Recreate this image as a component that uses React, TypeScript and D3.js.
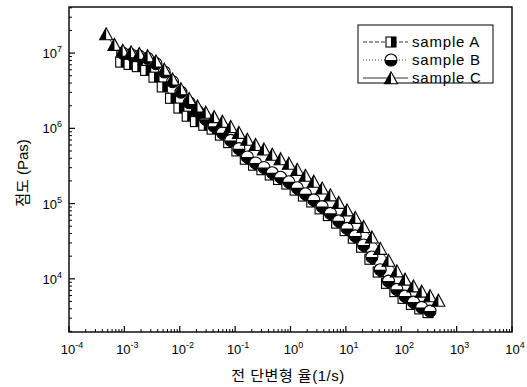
import React from "react";
import * as d3 from "d3";

const rateC = [4.68e-4, 6.61e-4, 9.33e-4, 1.32e-3, 1.86e-3, 2.63e-3, 3.72e-3, 5.25e-3, 7.41e-3, 1.05e-2, 1.48e-2, 2.09e-2, 2.95e-2, 4.17e-2, 5.89e-2, 8.32e-2, 0.117, 0.166, 0.234, 0.331, 0.468, 0.661, 0.933, 1.32, 1.86, 2.63, 3.72, 5.25, 7.41, 10.5, 14.8, 20.9, 29.5, 41.7, 58.9, 83.2, 117, 166, 234, 331, 468];
const viscC = [1.74e7, 1.26e7, 1.05e7, 1.0e7, 9.55e6, 8.91e6, 7.59e6, 5.89e6, 4.37e6, 3.24e6, 2.4e6, 1.91e6, 1.58e6, 1.38e6, 1.2e6, 1.02e6, 8.51e5, 6.92e5, 5.89e5, 5.13e5, 4.37e5, 3.8e5, 3.31e5, 2.75e5, 2.29e5, 1.91e5, 1.55e5, 1.26e5, 1.0e5, 7.94e4, 6.31e4, 4.79e4, 3.47e4, 2.45e4, 1.7e4, 1.23e4, 9.55e3, 7.76e3, 6.61e3, 5.75e3, 5.01e3];
const rateAB = [9.33e-4, 1.32e-3, 1.86e-3, 2.63e-3, 3.72e-3, 5.25e-3, 7.41e-3, 1.05e-2, 1.48e-2, 2.09e-2, 2.95e-2, 4.17e-2, 5.89e-2, 8.32e-2, 0.117, 0.166, 0.234, 0.331, 0.468, 0.661, 0.933, 1.32, 1.86, 2.63, 3.72, 5.25, 7.41, 10.5, 14.8, 20.9, 29.5, 41.7, 58.9, 83.2, 117, 166, 234, 331];
const viscB = [1.0e7, 9.55e6, 9.12e6, 8.51e6, 7.24e6, 5.62e6, 4.17e6, 3.02e6, 2.19e6, 1.7e6, 1.32e6, 1.07e6, 8.71e5, 6.92e5, 5.37e5, 4.17e5, 3.47e5, 3.02e5, 2.57e5, 2.24e5, 1.95e5, 1.62e5, 1.35e5, 1.12e5, 9.12e4, 7.41e4, 5.89e4, 4.68e4, 3.72e4, 2.82e4, 1.95e4, 1.32e4, 9.33e3, 7.24e3, 5.89e3, 4.9e3, 4.17e3, 3.72e3];
const viscA = [7.59e6, 7.08e6, 6.61e6, 5.89e6, 4.79e6, 3.55e6, 2.51e6, 1.86e6, 1.45e6, 1.23e6, 1.1e6, 9.77e5, 8.13e5, 6.46e5, 5.01e5, 3.89e5, 3.24e5, 2.82e5, 2.4e5, 2.09e5, 1.82e5, 1.51e5, 1.26e5, 1.05e5, 8.51e4, 6.92e4, 5.5e4, 4.37e4, 3.47e4, 2.63e4, 1.82e4, 1.23e4, 8.71e3, 6.76e3, 5.5e3, 4.57e3, 3.98e3, 3.55e3];

const seriesNames = ["sample A", "sample B", "sample C"];
const xTickExps = [-4, -3, -2, -1, 0, 1, 2, 3, 4];
const yTickExps = [4, 5, 6, 7];
const xTitle = "전 단변형 율(1/s)";
const yTitle = "점도 (Pas)";

const FONT = "'Liberation Sans', Arial, 'Noto Sans CJK KR', sans-serif";

const L = 69, R = 512, T = 7, B = 332;
const x = d3.scaleLog().domain([1e-4, 1e4]).range([L, R]);
const y = d3.scaleLog().domain([Math.pow(10, 3.293), Math.pow(10, 7.613)]).range([B, T]);

function Square({ cx, cy }: { cx: number; cy: number }) {
  const s = 10;
  return (
    <g>
      <rect x={cx - s / 2} y={cy - s / 2} width={s} height={s} fill="#fff" stroke="#000" strokeWidth={1.1} />
      <rect x={cx} y={cy - s / 2} width={s / 2} height={s} fill="#000" />
    </g>
  );
}
function Circle({ cx, cy }: { cx: number; cy: number }) {
  const r = 6;
  return (
    <g>
      <circle cx={cx} cy={cy} r={r} fill="#fff" stroke="#000" strokeWidth={1.1} />
      <path d={`M${cx - r},${cy} A${r},${r} 0 0 0 ${cx + r},${cy} Z`} fill="#000" />
    </g>
  );
}
function Tri({ cx, cy }: { cx: number; cy: number }) {
  const w = 13, h = 12;
  const top = cy - h * 0.6, bot = cy + h * 0.4;
  return (
    <g>
      <path d={`M${cx},${top} L${cx + w / 2},${bot} L${cx - w / 2},${bot} Z`} fill="#fff" stroke="#000" strokeWidth={1.1} strokeLinejoin="miter" />
      <path d={`M${cx},${top} L${cx},${bot} L${cx - w / 2},${bot} Z`} fill="#000" />
    </g>
  );
}

function Pow({ px, py, e, anchor }: { px: number; py: number; e: number; anchor: string }) {
  return (
    <text x={px} y={py} textAnchor={anchor as any} fontFamily={FONT} fontSize={13} fill="#000">
      10<tspan dy={-6} fontSize={9}>{e}</tspan>
    </text>
  );
}

export default function App() {
  const line = d3.line<[number, number]>().x((d) => x(d[0])).y((d) => y(d[1]));
  const dataA = rateAB.map((r, i) => [r, viscA[i]] as [number, number]);
  const dataB = rateAB.map((r, i) => [r, viscB[i]] as [number, number]);
  const dataC = rateC.map((r, i) => [r, viscC[i]] as [number, number]);

  const xMinor: number[] = [];
  for (let e = -4; e < 4; e++) for (let k = 2; k <= 9; k++) xMinor.push(k * Math.pow(10, e));
  const yMinor: number[] = [];
  for (let e = 3; e < 8; e++) for (let k = 2; k <= 9; k++) {
    const v = k * Math.pow(10, e);
    if (v >= y.domain()[0] && v <= y.domain()[1]) yMinor.push(v);
  }

  return (
    <svg width={527} height={387} style={{ position: "absolute", left: 0, top: 0, background: "#fff" }}>
      <rect x={0} y={0} width={527} height={387} fill="#fff" />
      <path d={line(dataA) || ""} fill="none" stroke="#000" strokeWidth={0.8} strokeDasharray="4,2" />
      <path d={line(dataB) || ""} fill="none" stroke="#000" strokeWidth={0.8} strokeDasharray="1,2" />
      <path d={line(dataC) || ""} fill="none" stroke="#000" strokeWidth={0.8} />
      {dataA.map((d, i) => <Square key={"a" + i} cx={x(d[0]) - 2} cy={y(d[1])} />)}
      {dataB.map((d, i) => <Circle key={"b" + i} cx={x(d[0])} cy={y(d[1])} />)}
      {dataC.map((d, i) => <Tri key={"c" + i} cx={x(d[0])} cy={y(d[1])} />)}

      <rect x={L} y={T} width={R - L} height={B - T} fill="none" stroke="#000" strokeWidth={1.4} />

      {xTickExps.map((e) => (
        <g key={"xt" + e}>
          <line x1={x(Math.pow(10, e))} x2={x(Math.pow(10, e))} y1={B} y2={B - 6} stroke="#000" strokeWidth={1.2} />
          <Pow px={x(Math.pow(10, e)) + 3} py={B + 22} e={e} anchor="middle" />
        </g>
      ))}
      {xMinor.map((v, i) => (
        <line key={"xm" + i} x1={x(v)} x2={x(v)} y1={B} y2={B - 3} stroke="#000" strokeWidth={1} />
      ))}
      {yTickExps.map((e) => (
        <g key={"yt" + e}>
          <line x1={L} x2={L + 6} y1={y(Math.pow(10, e))} y2={y(Math.pow(10, e))} stroke="#000" strokeWidth={1.2} />
          <Pow px={L - 7} py={y(Math.pow(10, e)) + 5} e={e} anchor="end" />
        </g>
      ))}
      {yMinor.map((v, i) => (
        <line key={"ym" + i} x1={L} x2={L + 3} y1={y(v)} y2={y(v)} stroke="#000" strokeWidth={1} />
      ))}

      <text x={288} y={381} textAnchor="middle" fontFamily={FONT} fontSize={15} letterSpacing={0.5} fill="#000">{xTitle}</text>
      <text transform="translate(28,173) rotate(-90)" textAnchor="middle" fontFamily={FONT} fontSize={15} fill="#000">{yTitle}</text>

      <rect x={358} y={25} width={135} height={58} fill="#fff" stroke="#000" strokeWidth={1} />
      {seriesNames.map((name, i) => {
        const cy = 42 + i * 18;
        const dash = i === 0 ? "4,2" : i === 1 ? "1,2" : undefined;
        return (
          <g key={name}>
            <line x1={363} x2={408} y1={cy} y2={cy} stroke="#000" strokeWidth={0.8} strokeDasharray={dash} />
            {i === 0 && <Square cx={391} cy={cy} />}
            {i === 1 && <Circle cx={391} cy={cy} />}
            {i === 2 && <Tri cx={391} cy={cy + 1} />}
            <text x={412} y={cy + 5} fontFamily={FONT} fontSize={15} letterSpacing={0.8} fill="#000">{name}</text>
          </g>
        );
      })}
    </svg>
  );
}
